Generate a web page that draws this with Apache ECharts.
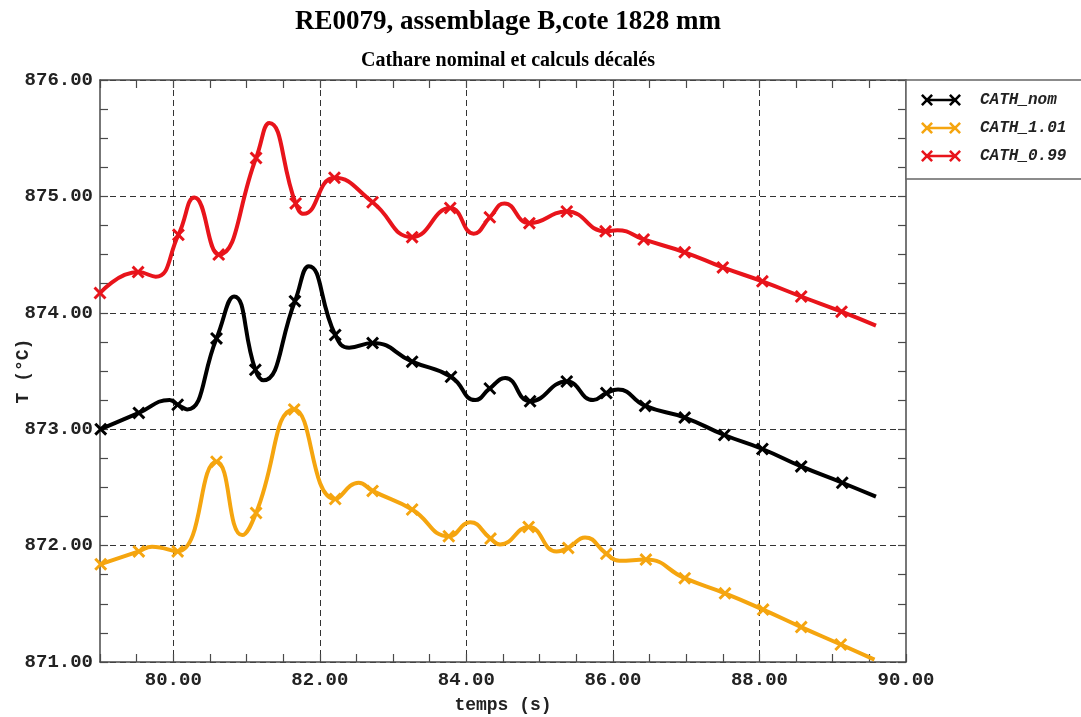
<!DOCTYPE html>
<html>
<head>
<meta charset="utf-8">
<script src="https://cdn.jsdelivr.net/npm/echarts@6/dist/echarts.min.js"></script>
<style>
  html, body { margin: 0; padding: 0; background: #fff; }
  #chart { width: 1081px; height: 717px; }
</style>
</head>
<body>
<div id="chart"></div>
<script>
// tick labels and grid positions
var xLabels = [80, 82, 84, 86, 88, 90];
var xGrid = [80, 82, 84, 86, 88];
var yLabels = [871, 872, 873, 874, 875, 876];

// points carrying an X marker
var nomMarks = [[79.01,873.00],[79.53,873.14],[80.06,873.21],[80.59,873.78],[81.12,873.51],[81.66,874.10],
    [82.21,873.81],[82.72,873.74],[83.26,873.58],[83.79,873.45],[84.32,873.35],[84.87,873.24],[85.37,873.41],
    [85.91,873.31],[86.44,873.20],[86.98,873.10],[87.52,872.95],[88.04,872.83],[88.57,872.68],[89.13,872.54]];
// intermediate points of the curve (peaks, troughs, end) without marker
var nomKnots = [[79.95,873.25],[80.19,873.17],[80.83,874.14],[81.23,873.42],[81.85,874.40],[82.40,873.70],
    [84.12,873.25],[84.53,873.44],[85.73,873.25],[86.07,873.34],[89.59,872.42]];

var c101Marks = [[79.01,871.84],[79.53,871.95],[80.06,871.95],[80.59,872.72],[81.13,872.28],[81.65,873.17],
    [82.21,872.40],[82.72,872.47],[83.26,872.31],[83.76,872.08],[84.33,872.06],[84.85,872.16],[85.39,871.98],
    [85.91,871.93],[86.45,871.88],[86.98,871.72],[87.53,871.59],[88.05,871.45],[88.57,871.30],[89.11,871.15]];
var c101Knots = [[79.71,871.99],[80.94,872.09],[82.53,872.54],[84.05,872.20],[84.46,872.01],[85.23,871.95],
    [85.62,872.07],[86.09,871.87],[89.57,871.02]];

var c099Marks = [[79.00,874.17],[79.52,874.35],[80.07,874.67],[80.62,874.50],[81.13,875.33],[81.67,874.94],
    [82.20,875.16],[82.72,874.95],[83.26,874.65],[83.78,874.90],[84.32,874.82],[84.86,874.77],[85.37,874.87],
    [85.90,874.70],[86.42,874.63],[86.98,874.52],[87.50,874.39],[88.04,874.27],[88.57,874.14],[89.12,874.01]];
var c099Knots = [[79.76,874.31],[80.29,874.99],[81.31,875.63],[81.78,874.85],[84.10,874.68],[84.52,874.94],
    [86.06,874.71],[89.59,873.89]];

var names = ['CATH_nom', 'CATH_1.01', 'CATH_0.99'];
var colors = ['#000000', '#f5a50f', '#e8141b'];

var crossPath = 'path://M0,1.6L1.6,0L5,3.4L8.4,0L10,1.6L6.6,5L10,8.4L8.4,10L5,6.6L1.6,10L0,8.4L3.4,5Z';
var legendPath = 'path://M0,1.8L1.8,0L6,4.2L10.2,0L12,1.8L7.8,6L12,10.2L10.2,12L6,7.8L1.8,12L0,10.2L4.2,6Z' +
    'M28,1.8L29.8,0L34,4.2L38.2,0L40,1.8L35.8,6L40,10.2L38.2,12L34,7.8L29.8,12L28,10.2L32.2,6Z' +
    'M6,4.8L34,4.8L34,7.2L6,7.2Z';

function build(marks, knots) {
    var pts = marks.map(function (p) { return { value: p }; })
        .concat(knots.map(function (p) { return { value: p, symbol: 'none' }; }));
    pts.sort(function (a, b) { return a.value[0] - b.value[0]; });
    return pts;
}

var monoFont = 'Liberation Mono';
var frameColor = '#4a4a4a';

function frameAxis(extra) {
    var a = {
        axisLine: { show: true, onZero: false, lineStyle: { color: frameColor, width: 1.5 } },
        axisTick: { show: true, inside: true, length: 8, lineStyle: { color: frameColor, width: 1.2 } },
        axisLabel: { show: false },
        splitLine: { show: false }
    };
    return Object.assign(a, extra);
}

var mainX = frameAxis({ type: 'value', position: 'bottom', min: 79, max: 90, interval: 0.5,
    name: 'temps (s)', nameLocation: 'middle', nameGap: 34,
    nameTextStyle: { fontFamily: monoFont, fontWeight: 'bold', fontSize: 18, color: '#222' } });
mainX.axisLabel = { show: true, customValues: xLabels, margin: 9, fontFamily: monoFont, fontWeight: 'bold',
    fontSize: 19, color: '#222', formatter: function (v) { return v.toFixed(2); } };

var mainY = frameAxis({ type: 'value', position: 'left', min: 871, max: 876, interval: 0.25,
    name: 'T (°C)', nameLocation: 'middle', nameGap: 68, nameMoveOverlap: false,
    nameTextStyle: { fontFamily: monoFont, fontWeight: 'bold', fontSize: 18, color: '#222' } });
mainY.axisLabel = { show: true, customValues: yLabels, margin: 7, fontFamily: monoFont, fontWeight: 'bold',
    fontSize: 19, color: '#222', formatter: function (v) { return v.toFixed(2); } };

var dashed = { show: true, lineStyle: { color: '#333', type: [6, 4], width: 1 } };

var option = {
    backgroundColor: '#fff',
    animation: false,
    title: [
        { text: 'RE0079, assemblage B,cote 1828 mm', left: 503, top: 4, textAlign: 'center',
          textStyle: { fontFamily: 'Liberation Serif', fontWeight: 'bold', fontSize: 27, color: '#000' } },
        { text: 'Cathare nominal et calculs décalés', left: 503, top: 46, textAlign: 'center',
          textStyle: { fontFamily: 'Liberation Serif', fontWeight: 'bold', fontSize: 20, color: '#000' } }
    ],
    legend: {
        orient: 'vertical', left: 906, top: 80,
        data: names, icon: legendPath, itemWidth: 40, itemHeight: 12, itemGap: 12,
        padding: [12, 40, 15, 15],
        borderColor: '#666', borderWidth: 1.5, borderRadius: 0, backgroundColor: '#fff',
        textStyle: { fontFamily: monoFont, fontStyle: 'italic', fontWeight: 'bold', fontSize: 16, color: '#222',
            padding: [0, 0, 0, 14] }
    },
    grid: { left: 100, right: 175, top: 80, bottom: 55, containLabel: false, outerBoundsMode: 'none' },
    xAxis: [
        mainX,
        frameAxis({ type: 'value', position: 'top', min: 79, max: 90, interval: 0.5 }),
        { type: 'value', position: 'bottom', min: 79, max: 90,
          axisLine: { show: false }, axisTick: { show: false, customValues: xGrid },
          axisLabel: { show: false }, splitLine: dashed }
    ],
    yAxis: [
        mainY,
        frameAxis({ type: 'value', position: 'right', min: 871, max: 876, interval: 0.25 }),
        { type: 'value', position: 'left', min: 871, max: 876, interval: 1,
          axisLine: { show: false }, axisTick: { show: false },
          axisLabel: { show: false }, splitLine: dashed }
    ],
    series: [
        [nomMarks, nomKnots], [c101Marks, c101Knots], [c099Marks, c099Knots]
    ].map(function (d, i) {
        return {
            name: names[i], type: 'line', xAxisIndex: 0, yAxisIndex: 0,
            data: build(d[0], d[1]),
            smooth: 0.5,
            symbol: crossPath, symbolSize: 13, showAllSymbol: true,
            itemStyle: { color: colors[i] },
            lineStyle: { color: colors[i], width: 4 },
            z: 3
        };
    })
};

var myChart = echarts.init(document.getElementById('chart'));
myChart.setOption(option);
</script>
</body>
</html>
